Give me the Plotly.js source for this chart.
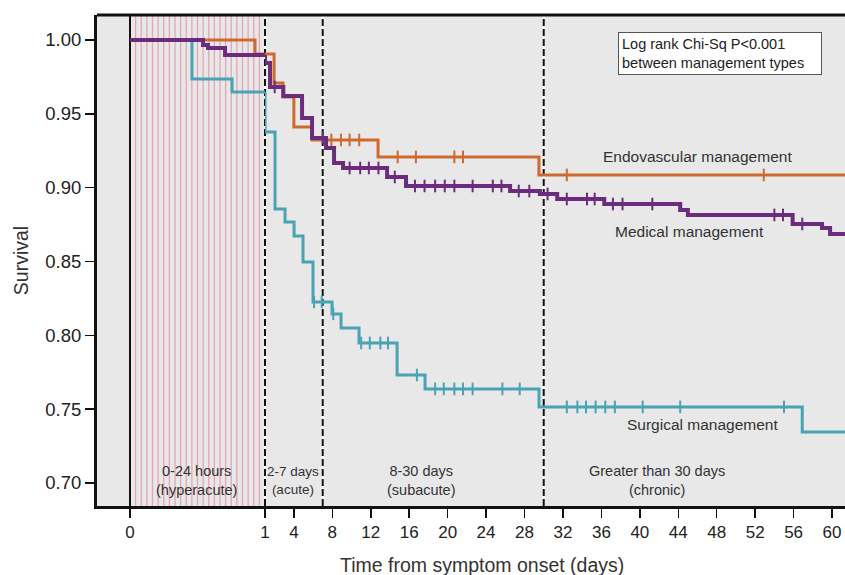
<!DOCTYPE html>
<html>
<head>
<meta charset="utf-8">
<script src="https://cdn.plot.ly/plotly-3.0.1.min.js"></script>
<style>html,body{margin:0;padding:0;background:#fff;}#chart{width:845px;height:575px;}</style>
</head>
<body>
<div id="chart"></div>
<script>
// ---- Data (time in days, survival probability) ----
const endoT = [0, 0.926, 1.94, 2.87, 4.0, 5.89, 12.76, 29.5];
const endoS = [1.0, 0.9905, 0.9709, 0.9614, 0.9411, 0.9323, 0.9208, 0.9086];
const endoCensor = [7.9, 8.9, 9.8, 10.8, 14.8, 16.7, 20.7, 21.6, 32.4, 52.9];

const medT = [0, 0.541, 0.578, 0.704, 1.0, 1.52, 2.9, 4.85, 5.89, 7.35, 8.18, 9.12, 13.7, 15.67, 26.5, 29.6, 31.4, 36.3, 44.2, 45.0, 55.9, 58.96, 59.8];
const medS = [1.0, 0.9966, 0.9946, 0.9898, 0.9844, 0.9682, 0.9620, 0.9472, 0.9336, 0.9269, 0.9167, 0.9133, 0.9072, 0.9011, 0.8977, 0.8957, 0.8923, 0.8889, 0.8849, 0.8815, 0.8754, 0.8727, 0.8686];
const medCensor = [2.0, 7.0, 9.8, 10.9, 11.8, 12.8, 14.5, 16.6, 17.6, 18.7, 19.7, 20.7, 22.6, 24.7, 25.6, 27.4, 28.5, 30.4, 32.4, 34.5, 35.3, 37.2, 38.2, 41.3, 54.0, 54.9, 56.9];

const surgT = [0, 0.459, 0.756, 1.0, 2.04, 3.08, 4.02, 4.95, 5.99, 7.97, 8.91, 10.78, 14.74, 17.65, 29.51, 56.9];
const surgS = [1.0, 0.9736, 0.9648, 0.9377, 0.8856, 0.8768, 0.8673, 0.8497, 0.8226, 0.8145, 0.8050, 0.7948, 0.7731, 0.7637, 0.7515, 0.7345];
const surgCensor = [6.1, 6.9, 8.1, 11.0, 11.9, 13.0, 13.8, 16.8, 18.7, 19.6, 20.7, 21.6, 22.6, 25.7, 27.5, 32.4, 33.5, 34.4, 35.4, 36.4, 37.4, 40.3, 44.2, 55.0];

const dayTicks = [1, 4, 8, 12, 16, 20, 24, 28, 32, 36, 40, 44, 48, 52, 56, 60];
const yTicks = [0.70, 0.75, 0.80, 0.85, 0.90, 0.95, 1.00];
const phaseBounds = [7, 30];
const hourCount = 24;

const colors = {endo: '#cf6a2e', med: '#6b2c7e', surg: '#4aa3b4'};
const DAY_END = 61.4;
const SPLIT = 168 / 748; // paper position where the hours axis meets the days axis

function stepAt(T, S, t) {
  let v = S[0];
  for (let i = 0; i < T.length; i++) { if (T[i] <= t) v = S[i]; }
  return v;
}

function buildTraces(T, S, C, color, width) {
  const hx = [], hy = [], dx = [], dy = [];
  let last = S[0];
  for (let i = 0; i < T.length; i++) {
    if (T[i] < 1) { hx.push(T[i]); hy.push(S[i]); last = S[i]; }
  }
  hx.push(1); hy.push(last);
  dx.push(1); dy.push(last);
  for (let i = 0; i < T.length; i++) {
    if (T[i] >= 1) { dx.push(T[i]); dy.push(S[i]); }
  }
  dx.push(DAY_END); dy.push(S[S.length - 1]);
  const line = {color: color, width: width, shape: 'hv'};
  return [
    {x: hx, y: hy, xaxis: 'x', yaxis: 'y', mode: 'lines', line: line, hoverinfo: 'skip', showlegend: false},
    {x: dx, y: dy, xaxis: 'x2', yaxis: 'y', mode: 'lines', line: line, hoverinfo: 'skip', showlegend: false},
    {x: C, y: C.map(c => stepAt(T, S, c)), xaxis: 'x2', yaxis: 'y', mode: 'markers',
     marker: {symbol: 'line-ns', size: 9, line: {color: color, width: 2}}, hoverinfo: 'skip', showlegend: false}
  ];
}

const data = [].concat(
  buildTraces(surgT, surgS, surgCensor, colors.surg, 3),
  buildTraces(endoT, endoS, endoCensor, colors.endo, 3),
  buildTraces(medT, medS, medCensor, colors.med, 4)
);

const shapes = [];
for (let h = 1; h < hourCount; h++) {
  shapes.push({type: 'line', xref: 'x', yref: 'paper', x0: h / hourCount, x1: h / hourCount, y0: 0, y1: 1,
               line: {color: '#e4a6b6', width: 1.3}, layer: 'below'});
}
shapes.push({type: 'line', xref: 'x', yref: 'paper', x0: 0, x1: 0, y0: 0, y1: 1, line: {color: '#111', width: 2}, layer: 'below'});
// day-1 boundary (between the two axes)
shapes.push({type: 'line', xref: 'paper', yref: 'paper', x0: SPLIT, x1: SPLIT, y0: 0, y1: 1, line: {color: '#ffffff', width: 2}, layer: 'below'});
shapes.push({type: 'line', xref: 'paper', yref: 'paper', x0: SPLIT, x1: SPLIT, y0: 0, y1: 1, line: {color: '#111', width: 2, dash: '7px,3px'}, layer: 'below'});
phaseBounds.forEach(b => {
  shapes.push({type: 'line', xref: 'x2', yref: 'paper', x0: b, x1: b, y0: 0, y1: 1, line: {color: '#ffffff', width: 2}, layer: 'below'});
  shapes.push({type: 'line', xref: 'x2', yref: 'paper', x0: b, x1: b, y0: 0, y1: 1, line: {color: '#111', width: 2, dash: '7px,3px'}, layer: 'below'});
});
shapes.push({type: 'line', xref: 'paper', yref: 'paper', x0: 0, x1: 1, y0: 1, y1: 1, line: {color: '#111', width: 3}});

const txt = '#333';
const ff = 'Liberation Sans, Arial, Helvetica, sans-serif';
const annotations = [
  {xref: 'x', yref: 'y', x: 0.489, y: 0.702, text: '0-24 hours<br>(hyperacute)', showarrow: false, font: {size: 14.5, color: txt, family: ff}},
  {xref: 'x2', yref: 'y', x: 3.9, y: 0.702, text: '2-7 days<br>(acute)', showarrow: false, font: {size: 13.5, color: txt, family: ff}},
  {xref: 'x2', yref: 'y', x: 17.3, y: 0.702, text: '8-30 days<br>(subacute)', showarrow: false, font: {size: 14.5, color: txt, family: ff}},
  {xref: 'x2', yref: 'y', x: 41.8, y: 0.702, text: 'Greater than 30 days<br>(chronic)', showarrow: false, font: {size: 14.5, color: txt, family: ff}},
  {xref: 'x2', yref: 'y', x: 46.0, y: 0.9208, text: 'Endovascular management', showarrow: false, font: {size: 15.5, color: txt, family: ff}},
  {xref: 'x2', yref: 'y', x: 45.2, y: 0.870, text: 'Medical management', showarrow: false, font: {size: 15.5, color: txt, family: ff}},
  {xref: 'x2', yref: 'y', x: 46.5, y: 0.7393, text: 'Surgical management', showarrow: false, font: {size: 15.5, color: txt, family: ff}},
  {xref: 'paper', yref: 'paper', x: 0.833, y: 0.9216, xanchor: 'center', yanchor: 'middle', align: 'left',
   text: 'Log rank Chi-Sq P&lt;0.001<br>between management types', showarrow: false,
   font: {size: 14.5, color: '#222', family: ff}, bgcolor: '#ffffff', bordercolor: '#555', borderwidth: 1, borderpad: 3, width: 196},
  {xref: 'paper', yref: 'paper', x: 0.515, y: -0.12, yanchor: 'middle', text: 'Time from symptom onset (days)', showarrow: false,
   font: {size: 19.5, color: txt, family: ff}}
];

const axCommon = {showline: true, linewidth: 3, linecolor: '#111', ticks: 'outside', ticklen: 9, tickwidth: 1.5,
  tickcolor: '#111', showgrid: false, zeroline: false, tickfont: {size: 17, color: '#222', family: ff}, fixedrange: true};

const layout = {
  width: 845, height: 575,
  margin: {l: 97, r: 0, t: 15, b: 69},
  paper_bgcolor: '#ffffff', plot_bgcolor: '#e8e8e8',
  font: {family: ff},
  showlegend: false,
  xaxis: Object.assign({}, axCommon, {domain: [0, SPLIT], range: [-0.2444, 1], tickmode: 'array', tickvals: [0], ticktext: ['0'], anchor: 'y'}),
  xaxis2: Object.assign({}, axCommon, {domain: [SPLIT, 1], range: [0.995, 61.35], tickmode: 'array', tickvals: dayTicks, ticktext: dayTicks.map(String), anchor: 'y'}),
  yaxis: Object.assign({}, axCommon, {range: [0.6844, 1.0169], tickmode: 'array', tickvals: yTicks, ticktext: yTicks.map(v => v.toFixed(2)),
    anchor: 'x', tickfont: {size: 18.5, color: '#222', family: ff},
    title: {text: 'Survival', font: {size: 19.5, color: txt, family: ff}, standoff: 12}}),
  shapes: shapes,
  annotations: annotations
};

Plotly.newPlot('chart', data, layout, {displayModeBar: false, staticPlot: true});
</script>
</body>
</html>
